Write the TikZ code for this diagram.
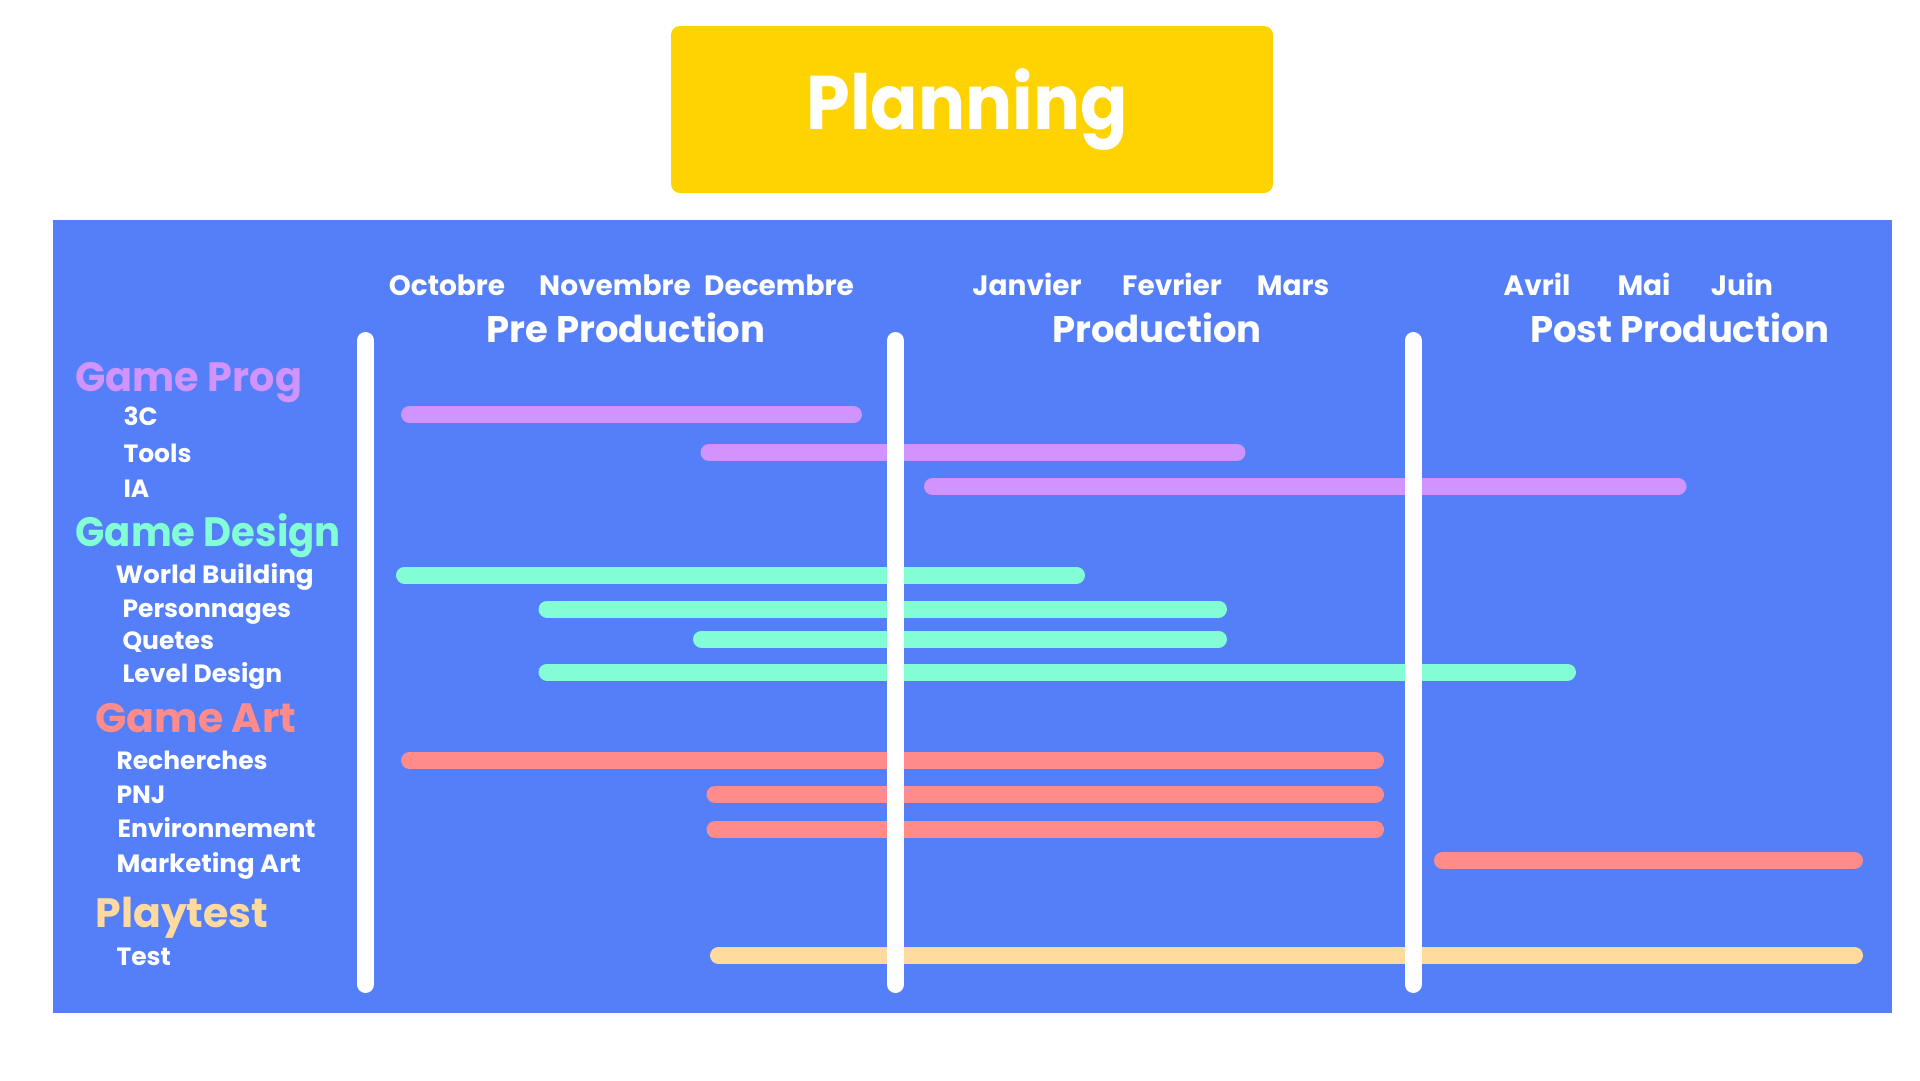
\documentclass[tikz,border=0pt]{standalone}
\usepackage{fontspec}
\setmainfont{Poppins}
\definecolor{boardblue}{HTML}{547FF9}
\definecolor{titleyellow}{HTML}{FFD300}
\definecolor{progcol}{HTML}{D193FD}
\definecolor{designcol}{HTML}{82FDD6}
\definecolor{artcol}{HTML}{FF8B8B}
\definecolor{playcol}{HTML}{FFDA9F}
\newcommand{\sz}[1]{\fontsize{#1}{#1}\selectfont}
\newcommand{\narrow}[1]{\addfontfeatures{FakeStretch=#1}}
\begin{document}
\begin{tikzpicture}[x=1pt,y=-1pt,
  month/.style={text=white, anchor=base, font=\bfseries\sz{28}},
  phase/.style={text=white, anchor=base, font=\bfseries\sz{37}},
  group/.style={anchor=base west, font=\bfseries\sz{41}},
  item/.style={text=white, anchor=base west, font=\bfseries\sz{25}},
  bar/.style={line width=17pt, line cap=round},
  divider/.style={white, line width=17pt, line cap=round}]
\useasboundingbox (0,0) rectangle (1920,1080);
\fill[white] (0,0) rectangle (1920,1080);

% title card
\fill[titleyellow, rounded corners=9pt] (671,26) rectangle (1273,193);
\node[text=white, anchor=base, font=\bfseries\sz{76}\narrow{0.92}] (title) at (967,129) {Planning};

% board
\fill[boardblue] (53,220) rectangle (1892,1013);

% months
\node[month] (oct) at (447,295) {Octobre};
\node[month] (nov) at (615,295) {Novembre};
\node[month] (dec) at (779,295) {Decembre};
\node[month] (jan) at (1027,295) {Janvier};
\node[month] (feb) at (1172,295) {Fevrier};
\node[month] (mar) at (1293,295) {Mars};
\node[month] (apr) at (1537,295) {Avril};
\node[month] (may) at (1644,295) {Mai};
\node[month] (jun) at (1742,295) {Juin};

% phases
\node[phase] (pre) at (626,342) {Pre Production};
\node[phase] (prod) at (1157,342) {Production};
\node[phase] (post) at (1680,342) {Post Production};

% row labels
\node[group, text=progcol, font=\bfseries\sz{41}\narrow{0.97}] (gprog) at (72,391) {Game Prog};
\node[item] (l3c) at (120,425) {3C};
\node[item] (ltools) at (120,462) {Tools};
\node[item] (lia) at (120,497) {IA};
\node[group, text=designcol, font=\bfseries\sz{41}\narrow{0.94}] (gdesign) at (72,546) {Game Design};
\node[item, font=\bfseries\sz{25}\narrow{1.05}] (lworld) at (112,583) {World Building};
\node[item] (lpers) at (119,617) {Personnages};
\node[item] (lquest) at (119,649) {Quetes};
\node[item] (llevel) at (119,682) {Level Design};
\node[group, text=artcol] (gart) at (92,732) {Game Art};
\node[item] (lrech) at (113,769) {Recherches};
\node[item] (lpnj) at (113,803) {PNJ};
\node[item] (lenv) at (114,837) {Environnement};
\node[item, font=\bfseries\sz{25}\narrow{1.04}] (lmark) at (113,872) {Marketing Art};
\node[group, text=playcol] (gplay) at (92,927) {Playtest};
\node[item] (ltest) at (113,965) {Test};

% task bars
\draw[bar, progcol] (409.5,414.5) -- (853.5,414.5);
\draw[bar, progcol] (709,452.5) -- (1237,452.5);
\draw[bar, progcol] (932.5,486.5) -- (1678,486.5);
\draw[bar, designcol] (404.5,575) -- (1076.5,575);
\draw[bar, designcol] (547,609) -- (1218.5,609);
\draw[bar, designcol] (701.5,639) -- (1218.5,639);
\draw[bar, designcol] (547,672) -- (1567.5,672);
\draw[bar, artcol] (409.5,760.5) -- (1375.5,760.5);
\draw[bar, artcol] (715,794.5) -- (1375.5,794.5);
\draw[bar, artcol] (715,829.5) -- (1375.5,829.5);
\draw[bar, artcol] (1442.5,860.5) -- (1854.5,860.5);
\draw[bar, playcol] (718.5,955.5) -- (1854.5,955.5);

% phase dividers
\draw[divider] (365.5,340.5) -- (365.5,984.5);
\draw[divider] (895.5,340.5) -- (895.5,984.5);
\draw[divider] (1413,340.5) -- (1413,984.5);
\end{tikzpicture}
\end{document}
